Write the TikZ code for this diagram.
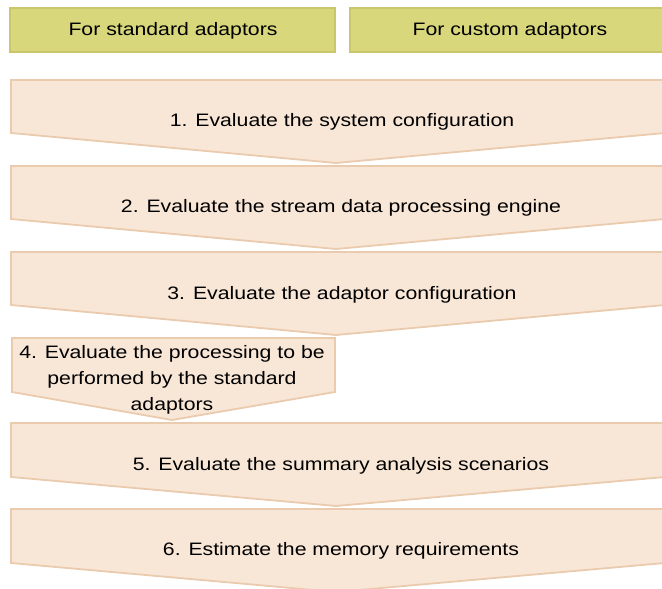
\documentclass[tikz,border=0pt]{standalone}
\usepackage{fontspec}
\setmainfont{Liberation Sans}
\newfontfamily\widesans[FakeStretch=1.18]{Liberation Sans}
\begin{document}
\begin{tikzpicture}[x=1pt,y=-1pt,
  hdr/.style={fill=headfill,draw=headline,line width=1.2pt},
  stepshape/.style={fill=stepfill,draw=stepline,line width=1.8pt,line join=miter},
  lbl/.style={font=\widesans\fontsize{18}{26}\selectfont,align=center,inner sep=0pt}]
\definecolor{headfill}{HTML}{D9D77C}
\definecolor{headline}{HTML}{C9C76A}
\definecolor{stepfill}{HTML}{F8E6D6}
\definecolor{stepline}{HTML}{EBCBAE}
\useasboundingbox (0,0) rectangle (662,589);
\clip (0,0) rectangle (662,589);
% headers
\draw[hdr] (10,8) rectangle (335,52);
\node[lbl] (hstd) at (173,31) {For standard adaptors};
\draw[hdr] (350,8) rectangle (670,52);
\node[lbl] (hcus) at (510,31) {For custom adaptors};
% steps
\draw[stepshape] (11,80) -- (670,80) -- (670,133) -- (665,133) -- (336,163) -- (11,133) -- cycle;
\node[lbl] (s1) at (342,122) {1. Evaluate the system configuration};
\draw[stepshape] (11,166) -- (670,166) -- (670,219) -- (665,219) -- (336,249) -- (11,219) -- cycle;
\node[lbl] (s2) at (341,208) {2. Evaluate the stream data processing engine};
\draw[stepshape] (11,252) -- (670,252) -- (670,305) -- (665,305) -- (336,335) -- (11,305) -- cycle;
\node[lbl] (s3) at (342,295) {3. Evaluate the adaptor configuration};
\draw[stepshape] (12,338) -- (335,338) -- (335,392) -- (172,420) -- (12,392) -- cycle;
\node[lbl] (s4) at (172,380) {4. Evaluate the processing to be\\performed by the standard\\adaptors};
\draw[stepshape] (11,423) -- (670,423) -- (670,477) -- (665,477) -- (336,506) -- (11,477) -- cycle;
\node[lbl] (s5) at (341,466) {5. Evaluate the summary analysis scenarios};
\draw[stepshape] (11,509) -- (670,509) -- (670,563) -- (665,563) -- (336,592) -- (11,563) -- cycle;
\node[lbl] (s6) at (341,551) {6. Estimate the memory requirements};
\end{tikzpicture}
\end{document}
